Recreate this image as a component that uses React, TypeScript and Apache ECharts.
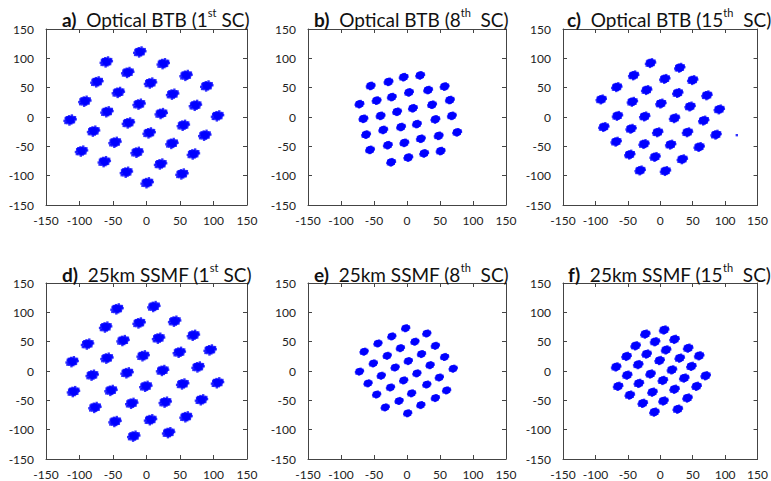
import React, { useEffect, useRef } from "react";
import * as echarts from "echarts";

// Cluster centres (I, Q) for each panel
const panelA: number[][] = [
  [-10, 111], [-60, 94], [25, 91], [-28, 76], [59, 71], [-74, 60], [6, 58], [90, 53],
  [-42, 42], [39, 39], [-92, 27], [-11, 22], [73, 20], [-114, -5], [-59, 9], [22, 6],
  [106, 2], [-27, -10], [55, -14], [-79, -24], [4, -27], [87, -31], [-47, -43], [38, -45],
  [-97, -58], [-14, -60], [70, -63], [-63, -76], [21, -80], [-30, -94], [53, -97], [1, -112],
];
const panelB: number[][] = [
  [-55, 53], [-28, 60], [-5, 68], [20, 71], [-72, 22], [-46, 28], [-23, 34], [3, 42],
  [32, 46], [57, 52], [-66, -3], [-40, 2], [-15, 9], [9, 15], [38, 21], [65, 29],
  [-62, -30], [-36, -22], [-9, -17], [15, -12], [43, -4], [68, 2], [-56, -56], [-29, -48],
  [-4, -44], [21, -37], [48, -32], [76, -26], [-24, -77], [2, -69], [26, -62], [51, -58],
];
const panelC: number[][] = [
  [-15, 92], [30, 84], [-41, 71], [7, 65], [50, 63], [-67, 51], [-21, 46], [27, 41],
  [72, 37], [-91, 30], [-43, 26], [1, 23], [46, 18], [91, 13], [-66, 2], [-24, 1],
  [22, -2], [67, -6], [-87, -17], [-45, -20], [-4, -26], [42, -26], [86, -30], [-68, -42],
  [-25, -46], [16, -47], [60, -51], [-47, -64], [-8, -68], [34, -72], [-31, -91], [8, -92],
];
const panelCOutliers: number[][] = [[118, -31]];
const panelD: number[][] = [
  [-44, 106], [11, 110], [-11, 82], [42, 85], [-61, 75], [70, 61], [-35, 52], [18, 56],
  [-88, 46], [49, 32], [-5, 26], [95, 36], [-59, 22], [-111, 16], [77, 7], [24, 1],
  [-29, -3], [-81, -7], [106, -20], [54, -22], [-1, -26], [-53, -33], [-109, -35], [82, -49],
  [28, -53], [-22, -55], [-77, -62], [59, -78], [6, -83], [-47, -86], [33, -105], [-19, -111],
];
const panelE: number[][] = [
  [-2, 73], [30, 64], [-23, 59], [12, 50], [43, 43], [-44, 47], [-10, 39], [22, 29],
  [57, 24], [-65, 33], [-30, 26], [2, 17], [35, 10], [70, 4], [-51, 13], [-18, 6],
  [15, -4], [49, -11], [-72, -1], [-39, -8], [-5, -16], [30, -23], [60, -33], [-59, -21],
  [-25, -28], [7, -38], [43, -46], [-46, -40], [-12, -51], [21, -58], [-33, -62], [1, -72],
];
const panelF: number[][] = [
  [6, 70], [-23, 63], [22, 54], [-8, 50], [-38, 43], [43, 39], [9, 36], [-21, 29],
  [-52, 25], [60, 26], [30, 22], [-1, 18], [-34, 11], [-68, 7], [48, 8], [18, 2],
  [-15, -5], [-51, -7], [70, -8], [37, -12], [4, -16], [-33, -21], [-65, -26], [56, -26],
  [22, -31], [-12, -36], [-47, -41], [42, -46], [5, -51], [-27, -55], [27, -65], [-9, -70],
];

// Hand-typed speckle pattern of the received symbols around each cluster centre
const clusterSpread: number[][] = [
  [0, 0], [0.3, 0.1], [-0.3, 0.2], [0.1, -0.35], [-0.2, -0.25], [0.5, -0.1], [-0.5, 0.05],
  [0.2, 0.5], [-0.15, 0.55], [0.6, 0.35], [-0.6, -0.35], [0.45, -0.5], [-0.4, 0.45],
  [0.05, -0.7], [0.75, 0.05], [-0.75, -0.1], [0.3, 0.75], [-0.35, -0.65], [0.85, -0.4],
  [-0.9, 0.3], [0.15, 0.95], [-0.1, -0.95], [1.0, 0.6], [-1.05, -0.55], [0.7, -0.8],
  [-0.65, 0.85], [1.2, -0.1], [-1.2, 0.1], [0.35, -1.15], [-0.3, 1.2], [1.4, 0.9], [-1.35, -1.0],
  [0.9, 0.95], [-0.95, 0.9], [1.1, -0.75], [-0.8, -1.05], [1.6, 0.2], [-1.6, -0.3],
  [0.5, 1.45], [-0.2, -1.5], [1.3, 0.45], [-1.25, 0.6],
];

const axisTicks = [-150, -100, -50, 0, 50, 100, 150];

const panels = [
  { key: "a", name: "Optical BTB (1", sup: "st", tail: " SC)", centers: panelA, outliers: [] as number[][], spread: 5.2, core: 8 },
  { key: "b", name: "Optical BTB (8", sup: "th", tail: "  SC)", centers: panelB, outliers: [] as number[][], spread: 3.6, core: 8 },
  { key: "c", name: "Optical BTB (15", sup: "th", tail: "  SC)", centers: panelC, outliers: panelCOutliers, spread: 4.4, core: 8 },
  { key: "d", name: "25km SSMF (1", sup: "st", tail: " SC)", centers: panelD, outliers: [] as number[][], spread: 5.2, core: 8 },
  { key: "e", name: "25km SSMF (8", sup: "th", tail: "  SC)", centers: panelE, outliers: [] as number[][], spread: 3.3, core: 7 },
  { key: "f", name: "25km SSMF (15", sup: "th", tail: "  SC)", centers: panelF, outliers: [] as number[][], spread: 4.0, core: 8 },
];

const FONT = "Lato, 'Noto Sans', sans-serif";
const BLUE = "#0000ff";

const gridRects = [
  { left: 46, top: 29, width: 201, height: 176 },
  { left: 308, top: 29, width: 198, height: 176 },
  { left: 563, top: 29, width: 199, height: 176 },
  { left: 46, top: 283, width: 201, height: 176 },
  { left: 308, top: 283, width: 198, height: 176 },
  { left: 563, top: 283, width: 199, height: 176 },
];
const titlePos = [
  { left: 57, top: 2 }, { left: 309, top: 2 }, { left: 562, top: 2 },
  { left: 57, top: 257 }, { left: 309, top: 257 }, { left: 563, top: 257 },
];

export default function App() {
  const ref = useRef<HTMLDivElement>(null);
  useEffect(() => {
    if (!ref.current) return;
    const chart = echarts.init(ref.current, null, { renderer: "svg" });
    const minV = axisTicks[0];
    const maxV = axisTicks[axisTicks.length - 1];
    const interval = axisTicks[1] - axisTicks[0];

    const xAxes: any[] = [];
    const yAxes: any[] = [];
    const series: any[] = [];
    const titles: any[] = [];

    panels.forEach((p, i) => {
      const base = {
        type: "value",
        min: minV,
        max: maxV,
        interval,
        gridIndex: i,
        splitLine: { show: false },
        axisLine: { show: true, onZero: false, lineStyle: { color: "#444", width: 1 } },
        axisTick: { show: true, inside: true, length: 4, lineStyle: { color: "#444" } },
      };
      xAxes.push({
        ...base,
        position: "bottom",
        axisLabel: { fontFamily: FONT, fontSize: 12, color: "#222", margin: 9 },
      });
      xAxes.push({ ...base, position: "top", axisLabel: { show: false } });
      yAxes.push({
        ...base,
        position: "left",
        axisLabel: { fontFamily: FONT, fontSize: 12, color: "#222", margin: 12 },
      });
      yAxes.push({ ...base, position: "right", axisLabel: { show: false } });

      const cloud: number[][] = [];
      p.centers.forEach(([cx, cy]) => {
        clusterSpread.forEach(([ox, oy]) => {
          cloud.push([cx + ox * p.spread, cy + oy * p.spread]);
        });
      });
      series.push({
        type: "scatter",
        xAxisIndex: i * 2,
        yAxisIndex: i * 2,
        data: cloud.concat(p.outliers),
        symbol: "rect",
        symbolSize: 2.4,
        itemStyle: { color: BLUE },
        silent: true,
      });
      series.push({
        type: "scatter",
        xAxisIndex: i * 2,
        yAxisIndex: i * 2,
        data: p.centers,
        symbol: "circle",
        symbolSize: p.core,
        itemStyle: { color: BLUE },
        silent: true,
      });

      titles.push({
        left: titlePos[i].left,
        top: titlePos[i].top,
        text: `{b|${p.key})}  {n|${p.name}}{s|${p.sup}}{n|${p.tail}}`,
        textStyle: {
          fontFamily: FONT,
          fontSize: 19,
          color: "#111",
          fontWeight: "normal",
          rich: {
            b: { fontFamily: FONT, fontSize: 19, fontWeight: "bold", color: "#111", lineHeight: 24 },
            n: { fontFamily: FONT, fontSize: 19, color: "#111", lineHeight: 24 },
            s: { fontFamily: FONT, fontSize: 11, color: "#111", verticalAlign: "top", lineHeight: 24, padding: [0, 0, 10, 0] },
          },
        },
      });
    });

    chart.setOption({
      animation: false,
      backgroundColor: "#ffffff",
      title: titles,
      grid: gridRects.map((g) => ({ ...g, containLabel: false })),
      xAxis: xAxes,
      yAxis: yAxes,
      series,
    });
    return () => chart.dispose();
  }, []);
  return (
    <div
      ref={ref}
      style={{ position: "fixed", left: 0, top: 0, width: 771, height: 481, background: "#fff" }}
    />
  );
}
